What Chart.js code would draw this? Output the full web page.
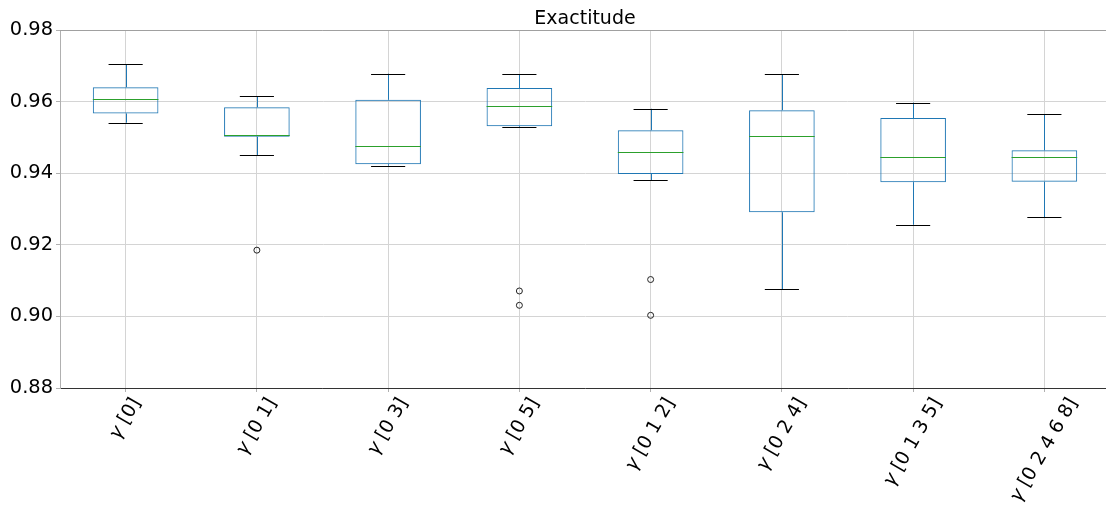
<!DOCTYPE html>
<html>
<head>
<meta charset="utf-8">
<script src="https://cdn.jsdelivr.net/npm/chart.js@4.4.1/dist/chart.umd.min.js"></script>
<style>
html,body{margin:0;padding:0;background:#fff;overflow:hidden;}
#wrap{width:1115px;height:509px;}
</style>
</head>
<body>
<div id="wrap"><canvas id="c" width="1115" height="509"></canvas></div>
<script>
// ---- data ----
const categories = ["[0]", "[0 1]", "[0 3]", "[0 5]", "[0 1 2]", "[0 2 4]", "[0 1 3 5]", "[0 2 4 6 8]"];
const whiskerLow = [0.9541, 0.9450, 0.9421, 0.9529, 0.9381, 0.9076, 0.9256, 0.9277];
const q1 =         [0.9567, 0.9502, 0.9425, 0.9531, 0.9398, 0.9291, 0.9375, 0.9376];
const median =     [0.9608, 0.9508, 0.9476, 0.9587, 0.9459, 0.9504, 0.9444, 0.9444];
const q3 =         [0.9640, 0.9584, 0.9605, 0.9638, 0.9520, 0.9576, 0.9554, 0.9464];
const whiskerHigh =[0.9704, 0.9615, 0.9678, 0.9676, 0.9580, 0.9676, 0.9597, 0.9565];
const outliers = [[], [0.9185], [], [0.9071, 0.9031], [0.9103, 0.9003], [], [], []];
const yTicks = [0.88, 0.90, 0.92, 0.94, 0.96, 0.98];
const titleText = "Exactitude";

const FONT = "'DejaVu Sans', sans-serif";
const C_BOX = '#1f77b4', C_MED = '#2ca02c', C_CAP = '#000000';

const outlierPoints = [];
outliers.forEach((arr, i) => arr.forEach(v => outlierPoints.push({x: categories[i], y: v})));

const boxPlugin = {
  id: 'boxExtras',
  afterDatasetsDraw(chart) {
    const ctx = chart.ctx, xs = chart.scales.x, ys = chart.scales.y;
    ctx.save();
    ctx.lineWidth = 1;
    categories.forEach((c, i) => {
      const cx = Math.round(xs.getPixelForValue(i)) + 0.5;
      // whiskers
      ctx.strokeStyle = C_BOX;
      ctx.beginPath();
      ctx.moveTo(cx, ys.getPixelForValue(q3[i])); ctx.lineTo(cx, ys.getPixelForValue(whiskerHigh[i]));
      ctx.moveTo(cx, ys.getPixelForValue(q1[i])); ctx.lineTo(cx, ys.getPixelForValue(whiskerLow[i]));
      ctx.stroke();
      // caps
      ctx.strokeStyle = C_CAP;
      ctx.beginPath();
      const cl = xs.getPixelForValue(i - 0.13), cr = xs.getPixelForValue(i + 0.13);
      [whiskerHigh[i], whiskerLow[i]].forEach(v => {
        const y = Math.round(ys.getPixelForValue(v)) + 0.5;
        ctx.moveTo(cl, y); ctx.lineTo(cr, y);
      });
      ctx.stroke();
      // median
      ctx.strokeStyle = C_MED;
      ctx.beginPath();
      const ml = xs.getPixelForValue(i - 0.25), mr = xs.getPixelForValue(i + 0.25);
      const my = Math.round(ys.getPixelForValue(median[i])) + 0.5;
      ctx.moveTo(ml, my); ctx.lineTo(mr, my);
      ctx.stroke();
    });
    ctx.restore();
  },
  afterDraw(chart) {
    const ctx = chart.ctx, xs = chart.scales.x, a = chart.chartArea;
    ctx.save();
    // top spine
    ctx.strokeStyle = '#a0a0a0'; ctx.lineWidth = 1;
    ctx.beginPath(); ctx.moveTo(a.left, Math.round(a.top) + 0.5); ctx.lineTo(a.right, Math.round(a.top) + 0.5); ctx.stroke();
    // rotated x labels (matplotlib style: rotated, bbox centered under tick)
    const fs = 19;
    const ang = 60 * Math.PI / 180;
    categories.forEach((c, i) => {
      const g = '\u03b3', rest = ' ' + c;
      ctx.font = 'italic ' + fs + 'px ' + FONT;
      const wg = ctx.measureText(g).width;
      ctx.font = fs + 'px ' + FONT;
      const wr = ctx.measureText(rest).width;
      const w = wg + wr, h = fs * 1.0;
      const bh = w * Math.sin(ang) + h * Math.cos(ang);
      const cx = xs.getPixelForValue(i);
      const cy = a.bottom + 7 + bh / 2;
      ctx.save();
      ctx.translate(cx, cy);
      ctx.rotate(-ang);
      ctx.fillStyle = '#000';
      ctx.textBaseline = 'middle';
      ctx.textAlign = 'left';
      ctx.font = 'italic ' + fs + 'px ' + FONT;
      ctx.fillText(g, -w / 2, 0);
      ctx.font = fs + 'px ' + FONT;
      ctx.fillText(rest, -w / 2 + wg, 0);
      ctx.restore();
    });
    ctx.restore();
  }
};

new Chart(document.getElementById('c'), {
  data: {
    labels: categories,
    datasets: [
      {
        type: 'bar',
        data: categories.map((c, i) => [q1[i], q3[i]]),
        backgroundColor: 'rgba(0,0,0,0)',
        borderColor: C_BOX,
        borderWidth: 1,
        borderSkipped: false,
        barPercentage: 0.5,
        categoryPercentage: 1.0
      },
      {
        type: 'line',
        data: outlierPoints,
        showLine: false,
        pointStyle: 'circle',
        pointRadius: 3,
        pointBorderWidth: 1,
        pointBorderColor: '#222',
        pointBackgroundColor: 'rgba(0,0,0,0)'
      }
    ]
  },
  options: {
    responsive: false,
    animation: false,
    devicePixelRatio: 1,
    layout: { padding: { left: 0, right: 1.3, top: 0, bottom: 0 } },
    plugins: {
      legend: { display: false },
      tooltip: { enabled: false },
      title: {
        display: true, text: titleText, color: '#000', fullSize: false,
        font: { family: FONT, size: 19, weight: 'normal', lineHeight: 1.2 },
        padding: { top: 7.2, bottom: 0 }
      }
    },
    scales: {
      x: {
        type: 'category',
        offset: true,
        grid: { display: true, offset: false, color: '#d4d4d4', lineWidth: 1, tickLength: 4, tickColor: '#b0b0b0' },
        border: { color: '#333333', width: 1 },
        ticks: { display: false },
        afterFit(s) { s.height = 121; }
      },
      y: {
        type: 'linear',
        min: 0.88, max: 0.98,
        afterBuildTicks(s) { s.ticks = yTicks.map(v => ({ value: v })); },
        grid: { color: '#d4d4d4', lineWidth: 1, tickLength: 4, tickColor: '#b0b0b0' },
        border: { color: '#b0b0b0', width: 1 },
        ticks: {
          color: '#000', padding: 3,
          font: { family: FONT, size: 19.4 },
          callback: v => Number(v).toFixed(2)
        },
        afterFit(s) { s.width = 60; }
      }
    }
  },
  plugins: [boxPlugin]
});
</script>
</body>
</html>
